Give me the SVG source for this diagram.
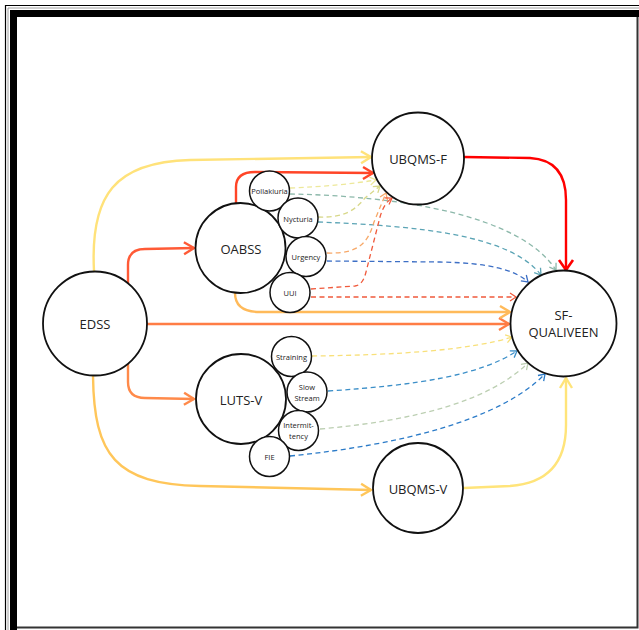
<svg xmlns="http://www.w3.org/2000/svg" width="639" height="630" viewBox="0 0 639 630">
<style>
.node{fill:#fff;stroke:#111;stroke-width:1.8}
.sub{fill:#fff;stroke:#111;stroke-width:1.5}
.lb{font-family:"Open Sans","Liberation Sans",sans-serif;font-size:13px;fill:#222;text-anchor:middle;dominant-baseline:central}
.sl{font-family:"Open Sans","Liberation Sans",sans-serif;font-size:7.5px;fill:#222;text-anchor:middle;dominant-baseline:central}
.s{fill:none;stroke-width:2.4}
.d{fill:none;stroke-width:1.3;stroke-dasharray:5 3.5}
</style>
<defs>
<marker id="aY" markerUnits="userSpaceOnUse" viewBox="-12 -10 14 20" markerWidth="14" markerHeight="20" refX="0" refY="0" orient="auto" overflow="visible"><path d="M-10,-6 L0,0 L-10,6" fill="none" stroke="#FFE27A" stroke-width="2.4"/></marker>
<marker id="aR1" markerUnits="userSpaceOnUse" viewBox="-12 -10 14 20" markerWidth="14" markerHeight="20" refX="0" refY="0" orient="auto" overflow="visible"><path d="M-10,-6 L0,0 L-10,6" fill="none" stroke="#FF5A36" stroke-width="2.4"/></marker>
<marker id="aO1" markerUnits="userSpaceOnUse" viewBox="-12 -10 14 20" markerWidth="14" markerHeight="20" refX="0" refY="0" orient="auto" overflow="visible"><path d="M-10,-6 L0,0 L-10,6" fill="none" stroke="#FF8A4A" stroke-width="2.4"/></marker>
<marker id="aO2" markerUnits="userSpaceOnUse" viewBox="-12 -10 14 20" markerWidth="14" markerHeight="20" refX="0" refY="0" orient="auto" overflow="visible"><path d="M-10,-6 L0,0 L-10,6" fill="none" stroke="#FF7D45" stroke-width="2.4"/></marker>
<marker id="aO3" markerUnits="userSpaceOnUse" viewBox="-12 -10 14 20" markerWidth="14" markerHeight="20" refX="0" refY="0" orient="auto" overflow="visible"><path d="M-10,-6 L0,0 L-10,6" fill="none" stroke="#FFC65A" stroke-width="2.4"/></marker>
<marker id="aR2" markerUnits="userSpaceOnUse" viewBox="-12 -10 14 20" markerWidth="14" markerHeight="20" refX="0" refY="0" orient="auto" overflow="visible"><path d="M-10,-6 L0,0 L-10,6" fill="none" stroke="#FF4527" stroke-width="2.4"/></marker>
<marker id="aO4" markerUnits="userSpaceOnUse" viewBox="-12 -10 14 20" markerWidth="14" markerHeight="20" refX="0" refY="0" orient="auto" overflow="visible"><path d="M-10,-6 L0,0 L-10,6" fill="none" stroke="#FFBA5A" stroke-width="2.4"/></marker>
<marker id="aRed" markerUnits="userSpaceOnUse" viewBox="-12 -10 14 20" markerWidth="14" markerHeight="20" refX="0" refY="0" orient="auto" overflow="visible"><path d="M-10,-7 L0,0 L-10,7" fill="none" stroke="#FF0000" stroke-width="2.6"/></marker>
<marker id="aY2" markerUnits="userSpaceOnUse" viewBox="-12 -10 14 20" markerWidth="14" markerHeight="20" refX="0" refY="0" orient="auto" overflow="visible"><path d="M-10,-6 L0,0 L-10,6" fill="none" stroke="#FFE47A" stroke-width="2.4"/></marker>
<marker id="d1" markerUnits="userSpaceOnUse" viewBox="-8 -6 10 12" markerWidth="10" markerHeight="12" refX="0" refY="0" orient="auto" overflow="visible"><path d="M-6,-4 L0,0 L-6,4" fill="none" stroke="#EDE89A" stroke-width="1.3"/></marker>
<marker id="d2" markerUnits="userSpaceOnUse" viewBox="-8 -6 10 12" markerWidth="10" markerHeight="12" refX="0" refY="0" orient="auto" overflow="visible"><path d="M-6,-4 L0,0 L-6,4" fill="none" stroke="#8CB8AA" stroke-width="1.3"/></marker>
<marker id="d3" markerUnits="userSpaceOnUse" viewBox="-8 -6 10 12" markerWidth="10" markerHeight="12" refX="0" refY="0" orient="auto" overflow="visible"><path d="M-6,-4 L0,0 L-6,4" fill="none" stroke="#D8D88A" stroke-width="1.3"/></marker>
<marker id="d4" markerUnits="userSpaceOnUse" viewBox="-8 -6 10 12" markerWidth="10" markerHeight="12" refX="0" refY="0" orient="auto" overflow="visible"><path d="M-6,-4 L0,0 L-6,4" fill="none" stroke="#5BA4B5" stroke-width="1.3"/></marker>
<marker id="d5" markerUnits="userSpaceOnUse" viewBox="-8 -6 10 12" markerWidth="10" markerHeight="12" refX="0" refY="0" orient="auto" overflow="visible"><path d="M-6,-4 L0,0 L-6,4" fill="none" stroke="#F7A868" stroke-width="1.3"/></marker>
<marker id="d6" markerUnits="userSpaceOnUse" viewBox="-8 -6 10 12" markerWidth="10" markerHeight="12" refX="0" refY="0" orient="auto" overflow="visible"><path d="M-6,-4 L0,0 L-6,4" fill="none" stroke="#3D6FC5" stroke-width="1.3"/></marker>
<marker id="d7" markerUnits="userSpaceOnUse" viewBox="-8 -6 10 12" markerWidth="10" markerHeight="12" refX="0" refY="0" orient="auto" overflow="visible"><path d="M-6,-4 L0,0 L-6,4" fill="none" stroke="#F05A3C" stroke-width="1.3"/></marker>
<marker id="d8" markerUnits="userSpaceOnUse" viewBox="-8 -6 10 12" markerWidth="10" markerHeight="12" refX="0" refY="0" orient="auto" overflow="visible"><path d="M-6,-4 L0,0 L-6,4" fill="none" stroke="#F8E07A" stroke-width="1.3"/></marker>
<marker id="d9" markerUnits="userSpaceOnUse" viewBox="-8 -6 10 12" markerWidth="10" markerHeight="12" refX="0" refY="0" orient="auto" overflow="visible"><path d="M-6,-4 L0,0 L-6,4" fill="none" stroke="#3C8FC8" stroke-width="1.3"/></marker>
<marker id="d10" markerUnits="userSpaceOnUse" viewBox="-8 -6 10 12" markerWidth="10" markerHeight="12" refX="0" refY="0" orient="auto" overflow="visible"><path d="M-6,-4 L0,0 L-6,4" fill="none" stroke="#BCCFB2" stroke-width="1.3"/></marker>
<marker id="d11" markerUnits="userSpaceOnUse" viewBox="-8 -6 10 12" markerWidth="10" markerHeight="12" refX="0" refY="0" orient="auto" overflow="visible"><path d="M-6,-4 L0,0 L-6,4" fill="none" stroke="#2B7BC8" stroke-width="1.3"/></marker>
</defs>
<rect width="639" height="630" fill="#fff"/>
<g id="frame">
<path d="M5.5,630 L5.5,5.5 L639,5.5" fill="none" stroke="#000" stroke-width="1.2"/>
<path d="M8,630 L8,8 L639,8" fill="none" stroke="#888" stroke-width="0.8"/>
<path d="M13.5,630 L13.5,13.5 L639,13.5" fill="none" stroke="#000" stroke-width="7"/>
<path d="M17,627.5 L637.5,627.5 L637.5,17" fill="none" stroke="#333" stroke-width="2"/>
</g>
<g id="connectors">
<path class="s" stroke="#FFE27A" d="M94,271 C90,195 115,162 190,160 L371,157" marker-end="url(#aY)"/>
<path class="s" stroke="#FF5A36" d="M128,283 L128,265 Q128,249 145,249 L194,248" marker-end="url(#aR1)"/>
<path class="s" stroke="#FF8A4A" d="M128,364 L128,382 Q128,398 145,398 L194,399" marker-end="url(#aO1)"/>
<path class="s" stroke="#FF7D45" d="M147,324 L509,324" marker-end="url(#aO2)"/>
<path class="s" stroke="#FFC65A" d="M93,376 C94,455 115,484 200,486 L371,490" marker-end="url(#aO3)"/>
<path class="s" stroke="#FF4527" d="M236,203 L236,187 Q236,172 255,172 L373,173" marker-end="url(#aR2)"/>
<path class="s" stroke="#FFBA5A" d="M235,293 Q235,312 260,312 L510,312" marker-end="url(#aO4)"/>
<path class="s" stroke="#FF0000" stroke-width="2.7" d="M464,157 L530,158 Q566,160 566,200 L566,270" marker-end="url(#aRed)"/>
<path class="s" stroke="#FFE47A" d="M464,488 L510,486 Q566,482 566,425 L566,378" marker-end="url(#aY2)"/>
<path class="d" stroke="#EDE89A" d="M290,188 Q340,186 376,180" marker-end="url(#d1)"/>
<path class="d" stroke="#8CB8AA" d="M290,194 C400,196 520,215 556,270" marker-end="url(#d2)"/>
<path class="d" stroke="#D8D88A" d="M318,217 C345,218 355,210 365,198 L380,186" marker-end="url(#d3)"/>
<path class="d" stroke="#5BA4B5" d="M318,222 C420,226 510,235 541,275" marker-end="url(#d4)"/>
<path class="d" stroke="#F7A868" d="M327,253 C360,254 368,242 374,222 L386,193" marker-end="url(#d5)"/>
<path class="d" stroke="#3D6FC5" d="M327,261 L440,262 C490,263 515,270 528,282" marker-end="url(#d6)"/>
<path class="d" stroke="#F05A3C" d="M311,289 L355,286 Q363,285 366,272 L380,217 Q384,203 392,198" marker-end="url(#d7)"/>
<path class="d" stroke="#F05A3C" d="M311,297 L516,297" marker-end="url(#d7)"/>
<path class="d" stroke="#F8E07A" d="M312,356 C400,355 470,350 512,337" marker-end="url(#d8)"/>
<path class="d" stroke="#3C8FC8" d="M328,391 C420,385 480,375 517,351" marker-end="url(#d9)"/>
<path class="d" stroke="#BCCFB2" d="M320,429 C420,420 490,400 528,363" marker-end="url(#d10)"/>
<path class="d" stroke="#2B7BC8" d="M290,456 C400,445 500,420 545,374" marker-end="url(#d11)"/>
</g>
<g id="EDSS"><circle class="node" cx="95" cy="323.5" r="52"/><text class="lb" x="95" y="324">EDSS</text></g>
<g id="OABSS"><circle class="node" cx="240.5" cy="248" r="45"/><text class="lb" x="241" y="249">OABSS</text></g>
<g id="LUTS-V"><circle class="node" cx="241" cy="399" r="45"/><text class="lb" x="241" y="400">LUTS-V</text></g>
<g id="UBQMS-F"><circle class="node" cx="418" cy="158.5" r="46"/><text class="lb" x="418" y="159">UBQMS-F</text></g>
<g id="UBQMS-V"><circle class="node" cx="418" cy="488" r="45"/><text class="lb" x="418" y="489">UBQMS-V</text></g>
<g id="SF-QUALIVEEN"><circle class="node" cx="563.5" cy="323.5" r="53"/><text class="lb" x="563.5" y="315">SF-</text><text class="lb" x="563.5" y="332">QUALIVEEN</text></g>
<g id="Pollakiuria"><circle class="sub" cx="269.5" cy="191" r="20"/><text class="sl" x="269.5" y="191">Pollakiuria</text></g>
<g id="Nycturia"><circle class="sub" cx="298" cy="218" r="20"/><text class="sl" x="298" y="218.5">Nycturia</text></g>
<g id="Urgency"><circle class="sub" cx="306" cy="256.5" r="20"/><text class="sl" x="306" y="257">Urgency</text></g>
<g id="UUI"><circle class="sub" cx="290" cy="292.5" r="20"/><text class="sl" x="290" y="293">UUI</text></g>
<g id="Straining"><circle class="sub" cx="291.5" cy="356.5" r="20"/><text class="sl" x="291.5" y="357">Straining</text></g>
<g id="SlowStream"><circle class="sub" cx="307" cy="392" r="20"/><text class="sl" x="307" y="386.5">Slow</text><text class="sl" x="307" y="397.5">Stream</text></g>
<g id="Intermittency"><circle class="sub" cx="298.5" cy="430.5" r="20"/><text class="sl" x="298.5" y="425">Intermit-</text><text class="sl" x="298.5" y="436">tency</text></g>
<g id="FIE"><circle class="sub" cx="269.5" cy="456.5" r="20"/><text class="sl" x="269.5" y="457">FIE</text></g>
</svg>
